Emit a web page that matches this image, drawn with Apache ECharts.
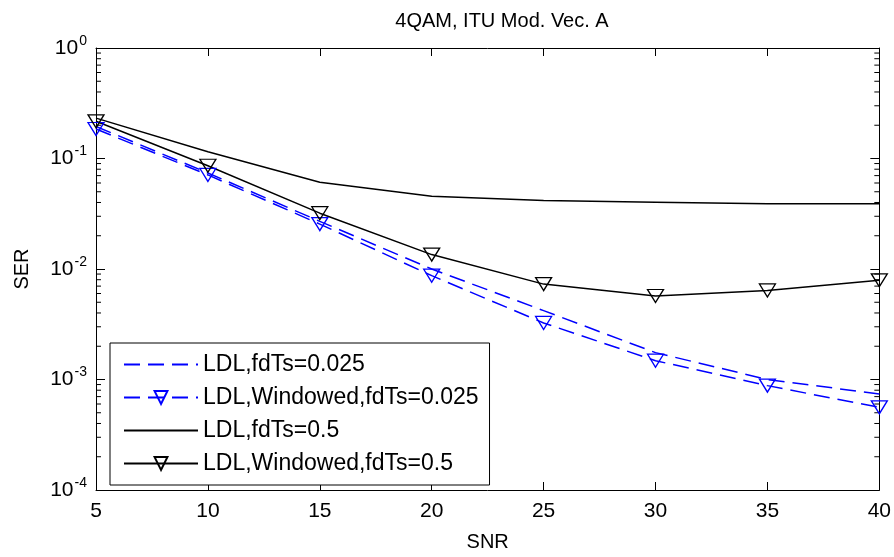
<!DOCTYPE html>
<html>
<head>
<meta charset="utf-8">
<script src="https://cdn.jsdelivr.net/npm/echarts@6/dist/echarts.min.js"></script>
<style>
html,body{margin:0;padding:0;background:#fff;}
#chart{width:894px;height:557px;}
</style>
</head>
<body>
<div id="chart"></div>
<script>
// ---- data ----
var snr = [5, 10, 15, 20, 25, 30, 35, 40];
var ldl025 = [0.195, 0.074, 0.027, 0.0100, 0.0042, 0.00175, 0.00100, 0.00074];
var win025 = [0.185, 0.071, 0.0255, 0.0087, 0.00325, 0.00148, 0.00088, 0.00056];
var ldl05 = [0.232, 0.115, 0.061, 0.0455, 0.0416, 0.0402, 0.0390, 0.0390];
var win05 = [0.217, 0.086, 0.032, 0.0135, 0.0073, 0.0057, 0.0064, 0.0079];
var seriesNames = ['LDL,fdTs=0.025', 'LDL,Windowed,fdTs=0.025', 'LDL,fdTs=0.5', 'LDL,Windowed,fdTs=0.5'];
var xTicks = [5, 10, 15, 20, 25, 30, 35, 40];
var yDecades = [-4, -3, -2, -1, 0];
var minorMantissas = [2, 3, 4, 5, 6, 7, 8, 9];

function pairs(xs, ys) { return xs.map(function (x, i) { return [x, ys[i]]; }); }

var minorTickData = [];
yDecades.slice(0, -1).forEach(function (e) {
  minorMantissas.forEach(function (m) { minorTickData.push([xTicks[0], m * Math.pow(10, e)]); });
});

var FONT = 'Liberation Sans, Arial, Helvetica, sans-serif';
var chart = echarts.init(document.getElementById('chart'), null, {renderer: 'canvas'});

var yLabel = {
  show: true, margin: 9,
  formatter: function (v) {
    var e = Math.round(Math.log10(v));
    return '{b|10}{s|' + e + '}';
  },
  rich: {
    b: {fontSize: 21, fontFamily: FONT, color: '#000'},
    s: {fontSize: 14, fontFamily: FONT, color: '#000', padding: [0, 0, 14, 1]}
  }
};

var option = {
  animation: false,
  backgroundColor: '#fff',
  title: {
    text: '4QAM, ITU Mod. Vec. A',
    left: 497, textAlign: 'center', top: 6,
    textStyle: {fontFamily: FONT, fontSize: 20, fontWeight: 'normal', color: '#000'}
  },
  grid: {left: 96, right: 12, top: 48, bottom: 61, show: false},
  legend: {
    data: [
      {name: seriesNames[0], itemStyle: {opacity: 0}},
      {name: seriesNames[1]},
      {name: seriesNames[2], itemStyle: {opacity: 0}},
      {name: seriesNames[3]}
    ],
    orient: 'vertical',
    left: 110, top: 343,
    itemWidth: 74, itemHeight: 16, itemGap: 10,
    padding: [10, 11, 10, 13],
    borderColor: '#000', borderWidth: 1, backgroundColor: '#fff',
    textStyle: {fontFamily: FONT, fontSize: 23, lineHeight: 23, color: '#000'}
  },
  xAxis: [{
    type: 'value', min: 5, max: 40, interval: 5, position: 'bottom',
    name: 'SNR', nameLocation: 'middle', nameGap: 42,
    nameTextStyle: {fontFamily: FONT, fontSize: 20, color: '#000'},
    axisLine: {show: true, onZero: false, lineStyle: {color: '#000', width: 1}},
    axisTick: {show: true, inside: true, length: 8, lineStyle: {color: '#000'}},
    axisLabel: {show: true, margin: 11, fontFamily: FONT, fontSize: 21, color: '#000'},
    splitLine: {show: false}
  }, {
    type: 'value', min: 5, max: 40, interval: 5, position: 'top',
    axisLine: {show: true, onZero: false, lineStyle: {color: '#000', width: 1}},
    axisTick: {show: true, inside: true, length: 8, lineStyle: {color: '#000'}},
    axisLabel: {show: false},
    splitLine: {show: false}
  }],
  yAxis: [{
    type: 'log', logBase: 10, min: 1e-4, max: 1, position: 'left',
    name: 'SER', nameLocation: 'middle', nameGap: 64, nameRotate: 90,
    nameTextStyle: {fontFamily: FONT, fontSize: 20, color: '#000'},
    axisLine: {show: true, onZero: false, lineStyle: {color: '#000', width: 1}},
    axisTick: {show: true, inside: true, length: 9, lineStyle: {color: '#000'}},
    axisLabel: yLabel,
    splitLine: {show: false}
  }, {
    type: 'log', logBase: 10, min: 1e-4, max: 1, position: 'right',
    axisLine: {show: true, onZero: false, lineStyle: {color: '#000', width: 1}},
    axisTick: {show: true, inside: true, length: 9, lineStyle: {color: '#000'}},
    axisLabel: {show: false},
    splitLine: {show: false}
  }],
  series: [
    {
      type: 'custom', name: 'minorTicks', silent: true, z: 1,
      data: minorTickData,
      renderItem: function (params, api) {
        var v = api.value(1);
        var pl = api.coord([xTicks[0], v]);
        var pr = api.coord([xTicks[xTicks.length - 1], v]);
        return {
          type: 'group',
          children: [
            {type: 'line', shape: {x1: pl[0], y1: pl[1], x2: pl[0] + 5, y2: pl[1]}, style: {stroke: '#000', lineWidth: 1}},
            {type: 'line', shape: {x1: pr[0] - 5, y1: pr[1], x2: pr[0], y2: pr[1]}, style: {stroke: '#000', lineWidth: 1}}
          ]
        };
      }
    },
    {
      type: 'line', name: seriesNames[0], data: pairs(snr, ldl025),
      symbol: 'none', lineStyle: {color: '#0000ff', width: 1.5, type: [16, 8]},
      itemStyle: {color: '#0000ff'}
    },
    {
      type: 'line', name: seriesNames[1], data: pairs(snr, win025),
      symbol: 'triangle', symbolRotate: 180, symbolSize: [16, 13], showSymbol: true,
      lineStyle: {color: '#0000ff', width: 1.5, type: [16, 8]},
      itemStyle: {color: 'rgba(255,255,255,0)', borderColor: '#0000ff', borderWidth: 1.3}
    },
    {
      type: 'line', name: seriesNames[2], data: pairs(snr, ldl05),
      symbol: 'none', lineStyle: {color: '#000', width: 1.5},
      itemStyle: {color: '#000'}
    },
    {
      type: 'line', name: seriesNames[3], data: pairs(snr, win05),
      symbol: 'triangle', symbolRotate: 180, symbolSize: [16, 13], showSymbol: true,
      lineStyle: {color: '#000', width: 1.5},
      itemStyle: {color: 'rgba(255,255,255,0)', borderColor: '#000', borderWidth: 1.3}
    }
  ]
};
chart.setOption(option);
</script>
</body>
</html>
